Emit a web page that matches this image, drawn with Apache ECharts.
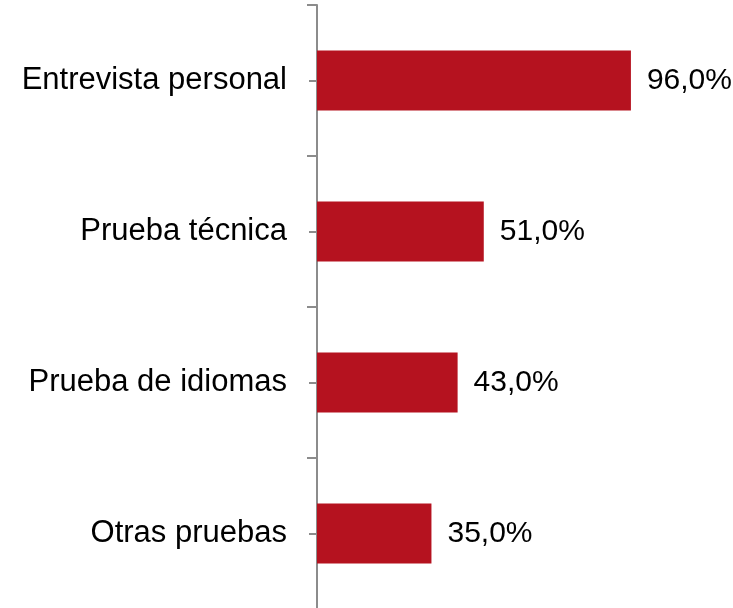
<!DOCTYPE html>
<html>
<head>
<meta charset="utf-8">
<script src="https://cdn.jsdelivr.net/npm/echarts@6/dist/echarts.min.js"></script>
<style>
  html, body { margin: 0; padding: 0; background: #fff; }
  #chart { width: 733px; height: 608px; }
</style>
</head>
<body>
<div id="chart"></div>
<script>
const categories = ['Entrevista personal', 'Prueba técnica', 'Prueba de idiomas', 'Otras pruebas'];
const values = [96.0, 51.0, 43.0, 35.0];

const chart = echarts.init(document.getElementById('chart'));
const axisGray = '#8c8c8c';

chart.setOption({
  animation: false,
  grid: { left: 317, top: 5, width: 327, height: 604, outerBoundsMode: 'none' },
  xAxis: { type: 'value', min: 0, max: 100, show: false },
  yAxis: [
    {
      type: 'category',
      data: categories,
      inverse: true,
      axisLine: { show: true, lineStyle: { color: axisGray, width: 2 } },
      axisTick: { show: true, interval: 0, length: 10, lineStyle: { color: axisGray, width: 2 } },
      axisLabel: { margin: 30, color: '#000', fontSize: 31, fontFamily: 'Liberation Sans, Arial' }
    },
    {
      // short ticks at the middle of each band
      type: 'category',
      data: categories,
      inverse: true,
      position: 'left',
      offset: 0,
      axisLine: { show: false },
      axisTick: { show: true, interval: 0, alignWithLabel: true, length: 8, lineStyle: { color: axisGray, width: 2 } },
      axisLabel: { show: false }
    }
  ],
  series: [{
    type: 'bar',
    data: values,
    barWidth: 60,
    itemStyle: { color: '#b5121f' },
    label: {
      show: true,
      position: 'right',
      distance: 16,
      color: '#000',
      fontSize: 30,
      fontFamily: 'Liberation Sans, Arial',
      formatter: p => p.value.toFixed(1).replace('.', ',') + '%'
    }
  }]
});
</script>
</body>
</html>
